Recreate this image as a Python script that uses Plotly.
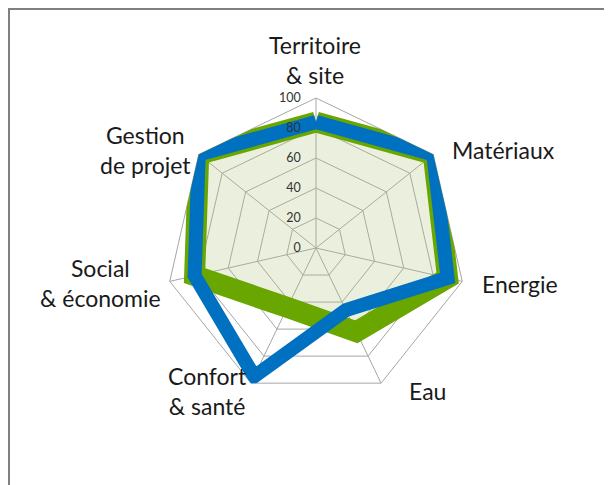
import plotly.graph_objects as go

categories = ["Territoire<br>& site", "Matériaux", "Energie", "Eau",
              "Confort<br>& santé", "Social<br>& économie", "Gestion<br>de projet"]
green_values = [84, 100, 90, 62, 44, 83, 100]
blue_values = [84, 100, 90, 46, 95, 83, 100]
radial_ticks = [0, 20, 40, 60, 80, 100]

# The page body has an 8px margin, so the figure is 8px smaller than the window
OFF = 8
W, H = 612 - OFF, 485 - OFF
cx, cy, R = 316 - OFF, 248 - OFF, 150  # polar centre in figure pixels

# category label placement in window pixels (centre / anchor), layout only
label_pos = [
    (315, 60, "center"),
    (450, 150, "left"),
    (480, 284, "left"),
    (407, 391, "left"),
    (207, 391, "center"),
    (100, 283, "center"),
    (145, 150, "center"),
]

def closed(v):
    return list(v) + [v[0]]

NB = "\u00a0"
tick_text = [f"{v}" + NB * 4 for v in radial_ticks]

fig = go.Figure()
fig.add_trace(go.Scatterpolar(
    r=closed(green_values), theta=closed(categories),
    mode="lines", fill="toself", fillcolor="rgba(175,195,123,0.25)",
    line=dict(color="rgb(106,166,0)", width=21),
    showlegend=False, hoverinfo="skip"))
fig.add_trace(go.Scatterpolar(
    r=closed(blue_values), theta=closed(categories),
    mode="lines",
    line=dict(color="rgb(0,112,192)", width=14),
    showlegend=False, hoverinfo="skip"))

annotations = []
for cat, (px, py, anchor) in zip(categories, label_pos):
    annotations.append(dict(
        text=cat, xref="paper", yref="paper",
        x=(px - OFF) / W, y=1 - (py - OFF) / H, xanchor=anchor, yanchor="middle",
        align="center", showarrow=False,
        font=dict(size=23, color="#1a1a1a",
                  family="Lato, Open Sans, sans-serif")))

fig.update_layout(
    width=W, height=H,
    margin=dict(l=0, r=0, t=0, b=0),
    paper_bgcolor="white",
    plot_bgcolor="white",
    font=dict(family="Lato, Open Sans, sans-serif", color="#1a1a1a"),
    polar=dict(
        domain=dict(x=[(cx - R) / W, (cx + R) / W],
                    y=[(H - cy - R) / H, (H - cy + R) / H]),
        bgcolor="white",
        gridshape="linear",
        angularaxis=dict(
            rotation=90, direction="clockwise",
            showticklabels=False,
            gridcolor="#a6a6a6", gridwidth=1,
            linecolor="#a6a6a6", linewidth=1,
            showline=True, ticks="",
            layer="below traces"),
        radialaxis=dict(
            range=[0, 100], tickvals=radial_ticks, ticktext=tick_text,
            angle=90, tickangle=90,
            side="counterclockwise",
            tickfont=dict(size=12.5, color="#333333"),
            gridcolor="#a6a6a6", gridwidth=1,
            showline=False, ticks="",
            layer="above traces"),
    ),
    annotations=annotations,
    shapes=[
        dict(type="line", xref="paper", yref="paper",
             x0=0, x1=1.0, y0=1 - 1 / H, y1=1 - 1 / H,
             line=dict(color="#808080", width=2)),
        dict(type="line", xref="paper", yref="paper",
             x0=1 / W, x1=1 / W, y0=0, y1=1,
             line=dict(color="#808080", width=2)),
    ],
)

fig.write_html("out.html")
